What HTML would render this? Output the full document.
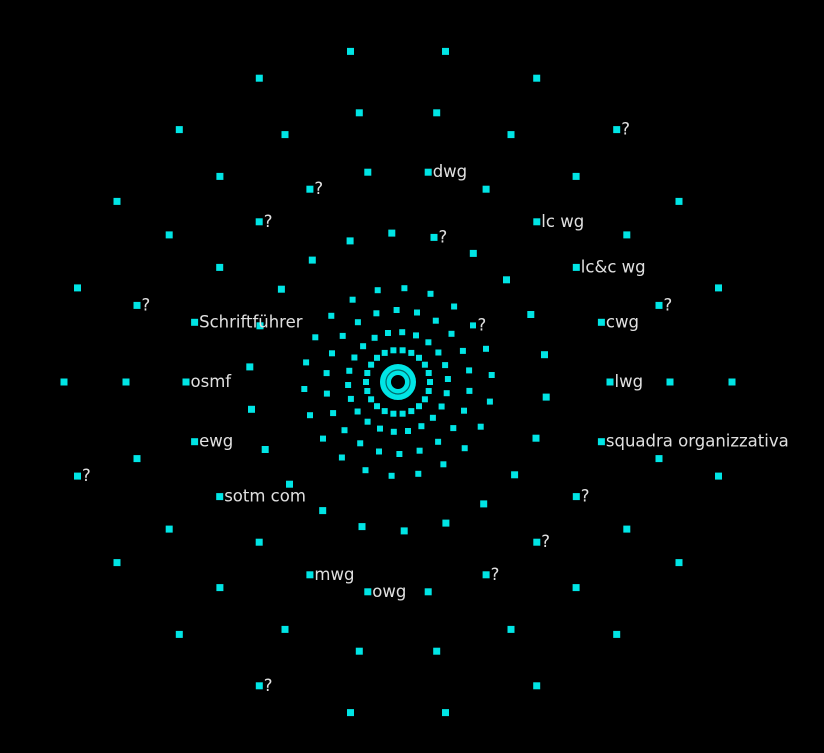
<!DOCTYPE html>
<html><head><meta charset="utf-8"><style>
html,body{margin:0;padding:0;background:#000;}
svg{display:block;}
text{font-family:"DejaVu Sans","Liberation Sans",sans-serif;font-size:16.5px;fill:#e0e0e0;}
</style></head><body>
<svg id="chart" width="824" height="753" viewBox="0 0 824 753">
<rect width="824" height="753" fill="#000"/>
<g id="rings"></g>
<g id="core">
<circle cx="398" cy="382" r="12.5" fill="none" stroke="#00e5e5" stroke-width="11"/>
<circle cx="398" cy="382" r="12" fill="none" stroke="#006a6a" stroke-width="1.2"/>
<circle cx="398" cy="382" r="4.5" fill="#000"/>
</g>
<g id="labels"></g>
</svg>
<script>
const ringRadii = [334, 272, 212, 149, 94, 72, 50, 32];
const ringPhases = [0, 0, 0, 5.8, -4.3, 7.1, -3.4, 0];
const ringCounts = [22, 22, 22, 22, 22, 22, 22, 22];
const labelRings = [2,2,2,2,2,2,2,2,2,2,2,2, 2,2,2,2,2, 1,1, 0,0,0, 3, 4];
const labelIdx =   [0,21,20,19,17,12,11,10,9,7,6,1, 15,14,2,3,4, 21,12, 10,19,7, 17, 20];
const labelText = ["lwg","cwg","lc&c wg","lc wg","dwg","Schriftführer","osmf","ewg","sotm com","mwg","owg","squadra organizzativa",
 "?","?","?","?","?", "?","?", "?","?","?", "?", "?"];
const CX = 398, CY = 382;
const NS = "http://www.w3.org/2000/svg";
function pos(ring, k){
  const a = (ringPhases[ring] + k * 360 / ringCounts[ring]) * Math.PI / 180;
  return [CX + ringRadii[ring] * Math.cos(a), CY + ringRadii[ring] * Math.sin(a)];
}
const rg = document.getElementById('rings');
for (let r = 0; r < ringRadii.length; r++){
  const s = r < 4 ? 7 : 6;
  for (let k = 0; k < ringCounts[r]; k++){
    const p = pos(r, k);
    const el = document.createElementNS(NS, 'rect');
    el.setAttribute('x', (p[0] - s/2).toFixed(1));
    el.setAttribute('y', (p[1] - s/2).toFixed(1));
    el.setAttribute('width', s); el.setAttribute('height', s);
    el.setAttribute('fill', '#00e5e5');
    
    
    rg.appendChild(el);
  }
}
const lg = document.getElementById('labels');
for (let i = 0; i < labelText.length; i++){
  const p = pos(labelRings[i], labelIdx[i]);
  const t = document.createElementNS(NS, 'text');
  t.setAttribute('x', (p[0] + 4.5).toFixed(1));
  t.setAttribute('y', (p[1] + 5).toFixed(1));
  t.textContent = labelText[i];
  
  
  lg.appendChild(t);
}
</script>
</body></html>
